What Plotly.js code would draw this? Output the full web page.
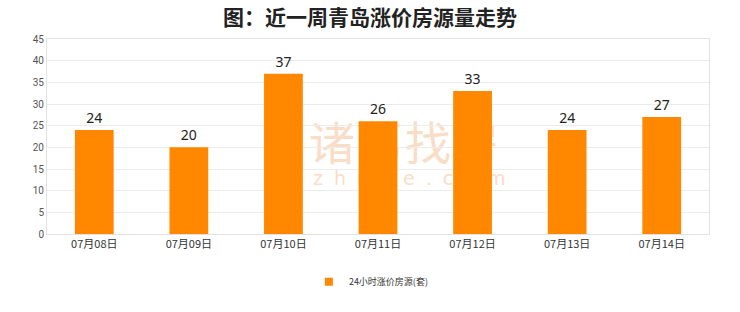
<!DOCTYPE html>
<html><head><meta charset="utf-8">
<script src="https://cdn.plot.ly/plotly-3.0.1.min.js"></script>
<style>
html,body{margin:0;padding:0;background:#fff}
#wrap{position:relative;width:740px;height:312px}
#c{position:absolute;left:0;top:0;width:740px;height:312px}
#wm{position:absolute;left:309px;top:117px;color:#f9ddc6;font-family:'Noto Sans CJK SC',sans-serif;line-height:1}
#wm .a{font-size:46px;letter-spacing:2px}
#wm .b{font-family:'DejaVu Sans',sans-serif;font-size:19px;letter-spacing:11px;margin-top:6px;padding-left:4px}
</style>
</head><body><div id="wrap"><div id="wm"><div class="a">诸葛找房</div><div class="b">zhuge.com</div></div><div id="c"></div></div>
<script>
const categories = ["07月08日","07月09日","07月10日","07月11日","07月12日","07月13日","07月14日"];
const values = [24, 20, 37, 26, 33, 24, 27];
const seriesName = "24小时涨价房源(套)";
const yTicks = [0,5,10,15,20,25,30,35,40,45];
const barColor = '#ff8800';

const trace = {
  type: 'bar', x: categories, y: values, name: seriesName,
  marker: {color: barColor}, width: 0.41,
  text: values.map(String), textposition: 'outside', cliponaxis: false,
  textfont: {family: 'Noto Sans, sans-serif', size: 14, color: '#222'},
  showlegend: false
};
const legendProxy = {
  type: 'scatter', mode: 'markers', x: [null], y: [null], name: seriesName,
  marker: {symbol: 'square', size: 8, color: barColor}, showlegend: true, hoverinfo: 'skip'
};
const layout = {
  width: 740, height: 312,
  margin: {l: 47, r: 31, t: 39, b: 78},
  paper_bgcolor: 'rgba(0,0,0,0)', plot_bgcolor: 'rgba(0,0,0,0)',
  title: {text: '图：近一周青岛涨价房源量走势', x: 0.5, xanchor: 'center', y: 0.945, yanchor: 'middle',
    font: {family: 'Noto Sans CJK SC, sans-serif', size: 21, color: '#222', weight: 'bold'}},
  xaxis: {type: 'category', showgrid: false, showline: true, linecolor: '#e2e2e2', mirror: true,
    ticks: '', tickfont: {family: 'Noto Sans CJK SC, sans-serif', size: 11, color: '#333'}},
  yaxis: {range: [0, 45], tickvals: yTicks, showgrid: true, gridcolor: '#ececec', showline: true,
    linecolor: '#e2e2e2', mirror: true, zeroline: false, ticks: '', ticklen: 0,
    tickfont: {family: 'Roboto, sans-serif', size: 10, color: '#555'}},
  showlegend: true,
  legend: {orientation: 'h', x: 0.49, xanchor: 'center', y: -0.245, yanchor: 'middle',
    bgcolor: 'rgba(0,0,0,0)',
    font: {family: 'Noto Sans CJK SC, sans-serif', size: 9, color: '#333'}}
};
Plotly.newPlot('c', [trace, legendProxy], layout, {displayModeBar: false, staticPlot: true});
</script></body></html>
